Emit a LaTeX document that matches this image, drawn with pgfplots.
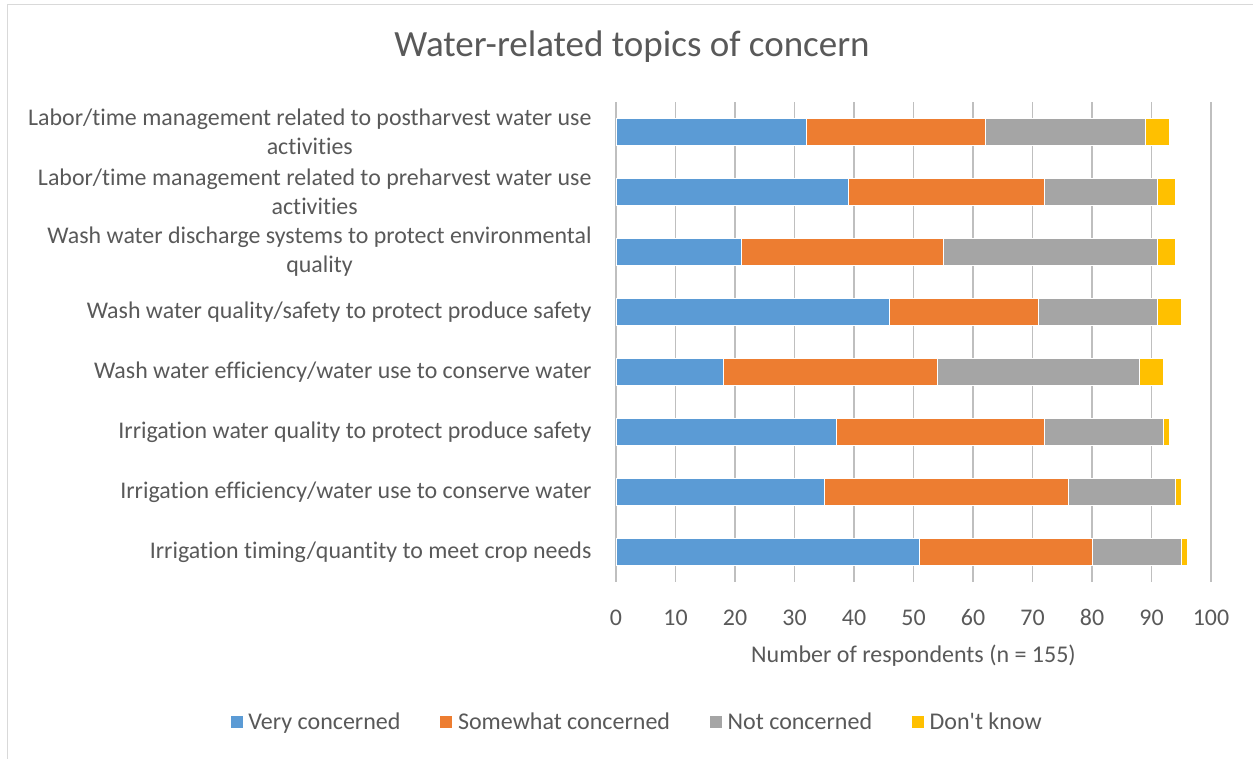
\documentclass[border=0pt]{standalone}
\usepackage{pgfplots}
\pgfplotsset{compat=1.18}
\usepackage{fontspec}
\setmainfont{Carlito}[Ligatures={NoCommon}]
\newfontfamily\aposfont{Carlito}[Ligatures=ResetAll]
\definecolor{cBlue}{HTML}{5B9BD5}
\definecolor{cOrange}{HTML}{ED7D31}
\definecolor{cGray}{HTML}{A5A5A5}
\definecolor{cYellow}{HTML}{FFC000}
\definecolor{txt}{HTML}{595959}
\definecolor{grid}{HTML}{D9D9D9}
\pgfplotstableread{
y very some not dk
0 51 29 15 1
1 35 41 18 1
2 37 35 20 1
3 18 36 34 4
4 46 25 20 4
5 21 34 36 3
6 39 33 19 3
7 32 30 27 4
}\datatable
\begin{document}
\begin{tikzpicture}[x=1pt,y=1pt]
\useasboundingbox (0,0) rectangle (1253,759);
\fill[white] (0,0) rectangle (1253,759);
\draw[grid, line width=1pt] (7,-10) -- (7,754) -- (1270,754);
\node[txt, font=\fontsize{37}{44}\selectfont] at (632,712) {Water-related topics of concern};
\begin{axis}[
  at={(616pt,177pt)}, anchor=south west,
  scale only axis, width=595pt, height=480pt,
  xbar stacked, bar width=27pt,
  xmin=0, xmax=100, ymin=-0.5, ymax=7.5,
  xtick={0,10,...,100},
  ytick={0,...,7},
  yticklabels={
    Irrigation timing/quantity to meet crop needs,
    Irrigation efficiency/water use to conserve water,
    Irrigation water quality to protect produce safety,
    Wash water efficiency/water use to conserve water,
    Wash water quality/safety to protect produce safety,
    {Wash water discharge systems to protect environmental\\quality},
    {Labor/time management related to preharvest water use\\activities},
    {Labor/time management related to postharvest water use\\activities}},
  yticklabel style={align=center, anchor=east, xshift=-21pt, text=txt,
    font=\fontsize{23.9}{29}\selectfont},
  xticklabel style={text=txt, font=\fontsize{23.9}{28}\selectfont, yshift=-24pt},
  /pgf/number format/assume math mode=true,
  major tick length=0pt,
  xtick style={draw=none}, ytick style={draw=none},
  ymajorgrids=false,
  axis line style={draw=none},
  xmajorgrids, major grid style={grid, line width=1.3pt},
  xlabel={Number of respondents (n = 155)},
  xlabel style={text=txt, font=\fontsize{24}{28}\selectfont, at={(0.5,-0.1540)}, anchor=center},
  legend columns=4,
  legend style={draw=none, fill=none, at={(0.035,-0.2917)}, anchor=center,
    font=\fontsize{24}{28}\selectfont, text=txt,
    /tikz/every odd column/.append style={column sep=3pt},
    /tikz/every even column/.append style={column sep=37pt}},
  legend image code/.code={\fill[#1] (0pt,-6.5pt) rectangle (13pt,6.5pt);},
  every axis plot/.append style={draw=white, line width=0.6pt},
]
\addplot[fill=cBlue] table[x=very,y=y] {\datatable};
\addplot[fill=cOrange] table[x=some,y=y] {\datatable};
\addplot[fill=cGray] table[x=not,y=y] {\datatable};
\addplot[fill=cYellow] table[x=dk,y=y] {\datatable};
\legend{Very concerned, Somewhat concerned, Not concerned, Don{\aposfont'}t know}
\end{axis}
\end{tikzpicture}
\end{document}
